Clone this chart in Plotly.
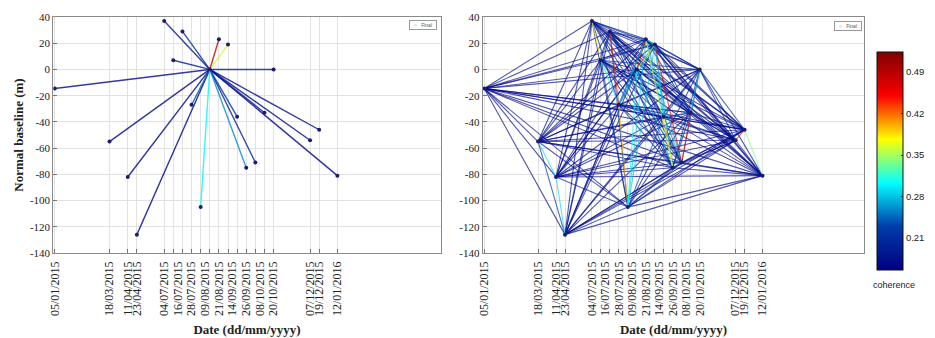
import plotly.graph_objects as go
from plotly.colors import get_colorscale, sample_colorscale

# ---------------- data ----------------
acq_dates = ["2015-01-05", "2015-03-18", "2015-04-11", "2015-04-23", "2015-05-29",
             "2015-06-10", "2015-06-22", "2015-07-04", "2015-07-16", "2015-07-28",
             "2015-08-09", "2015-08-21", "2015-09-02", "2015-09-14", "2015-09-26",
             "2015-10-08", "2015-10-20", "2015-12-07", "2015-12-19", "2016-01-12"]
baseline_m = [-14.5, -55, -82, -126, 37, 7, 29, -27, -105, 0,
              23, 19, -36, -75, -71, -33, 0, -54, -46, -81]
master_index = 9

# coherence, upper triangle: row i holds pairs (i, j) for j > i
coherence_rows = [
    [0.17, 0.16, 0.16, 0.17, 0.17, 0.16, 0.17, 0.16, 0.17, 0.16, 0.17, 0.16, 0.16, 0.17, 0.16, 0.17, 0.16, 0.16, 0.17],
    [0.29, 0.21, 0.17, 0.18, 0.16, 0.17, 0.18, 0.165, 0.16, 0.17, 0.17, 0.16, 0.17, 0.16, 0.17, 0.16, 0.16, 0.16],
    [0.29, 0.17, 0.18, 0.17, 0.18, 0.19, 0.16, 0.17, 0.16, 0.17, 0.17, 0.16, 0.16, 0.17, 0.16, 0.16, 0.16],
    [0.17, 0.18, 0.17, 0.18, 0.20, 0.165, 0.16, 0.17, 0.17, 0.16, 0.17, 0.16, 0.17, 0.16, 0.16, 0.17],
    [0.38, 0.22, 0.20, 0.19, 0.18, 0.19, 0.20, 0.18, 0.17, 0.18, 0.18, 0.19, 0.17, 0.17, 0.16],
    [0.24, 0.30, 0.21, 0.19, 0.20, 0.20, 0.21, 0.19, 0.18, 0.19, 0.20, 0.17, 0.17, 0.16],
    [0.44, 0.22, 0.21, 0.21, 0.20, 0.19, 0.19, 0.20, 0.18, 0.19, 0.17, 0.17, 0.16],
    [0.40, 0.24, 0.28, 0.27, 0.22, 0.20, 0.20, 0.19, 0.18, 0.17, 0.17, 0.16],
    [0.30, 0.29, 0.28, 0.23, 0.21, 0.20, 0.19, 0.18, 0.17, 0.17, 0.16],
    [0.48, 0.36, 0.22, 0.26, 0.19, 0.18, 0.19, 0.17, 0.17, 0.16],
    [0.30, 0.28, 0.36, 0.27, 0.21, 0.20, 0.17, 0.17, 0.16],
    [0.28, 0.27, 0.47, 0.22, 0.20, 0.17, 0.17, 0.16],
    [0.38, 0.26, 0.24, 0.21, 0.18, 0.17, 0.17],
    [0.25, 0.22, 0.20, 0.18, 0.17, 0.17],
    [0.45, 0.24, 0.18, 0.18, 0.17],
    [0.27, 0.19, 0.19, 0.18],
    [0.21, 0.20, 0.18],
    [0.48, 0.20],
    [0.34],
]

x_tick_labels = ["05/01/2015", "18/03/2015", "11/04/2015", "23/04/2015", "04/07/2015",
                 "16/07/2015", "28/07/2015", "09/08/2015", "21/08/2015", "14/09/2015",
                 "26/09/2015", "08/10/2015", "20/10/2015", "07/12/2015", "19/12/2015",
                 "12/01/2016"]
x_tick_label_pos = ["2015-01-05", "2015-03-18", "2015-04-11", "2015-04-23", "2015-05-29",
                    "2015-06-16", "2015-07-04", "2015-07-22", "2015-08-09", "2015-08-27",
                    "2015-09-14", "2015-10-02", "2015-10-20", "2015-12-07", "2015-12-19",
                    "2016-01-12"]
y_ticks = [-140, -120, -100, -80, -60, -40, -20, 0, 20, 40]
cbar_ticks = [0.21, 0.28, 0.35, 0.42, 0.49]
coh_min, coh_max = 0.156, 0.524

# ---------------- geometry (page pixels; page body has an 8px margin) ----------------
OFF = 8
W, H = 935 - OFF, 338 - OFF


def px(x):
    return (x - OFF) / W


def py(y):
    return 1 - (y - OFF) / H


# ---------------- build ----------------
jet = get_colorscale("Jet")


def coh_color(c):
    t = min(max((c - coh_min) / (coh_max - coh_min), 0), 1)
    return sample_colorscale(jet, [t])[0]


pairs = []
for i, row in enumerate(coherence_rows):
    for k, c in enumerate(row):
        pairs.append((i, i + 1 + k, c))
pairs.sort(key=lambda p: p[2])

fig = go.Figure()

# left: star graph from master
star = [p for p in pairs if master_index in (p[0], p[1])]
for i, j, c in star:
    fig.add_trace(go.Scatter(
        x=[acq_dates[i], acq_dates[j]], y=[baseline_m[i], baseline_m[j]],
        mode="lines", line=dict(color=coh_color(c), width=1.4), opacity=0.8,
        showlegend=False, hoverinfo="skip", xaxis="x", yaxis="y"))
fig.add_trace(go.Scatter(
    x=acq_dates, y=baseline_m, mode="markers", name="Final", showlegend=False,
    marker=dict(color="#1c1c6a", size=4), xaxis="x3", yaxis="y"))

# right: full network
for i, j, c in pairs:
    fig.add_trace(go.Scatter(
        x=[acq_dates[i], acq_dates[j]], y=[baseline_m[i], baseline_m[j]],
        mode="lines", line=dict(color=coh_color(c), width=1.1), opacity=0.68,
        showlegend=False, hoverinfo="skip", xaxis="x2", yaxis="y2"))
fig.add_trace(go.Scatter(
    x=acq_dates, y=baseline_m, mode="markers", name="Final", showlegend=False,
    marker=dict(color="#1c1c6a", size=4), xaxis="x4", yaxis="y2"))

# colorbar carrier
fig.add_trace(go.Scatter(
    x=[None], y=[None], mode="markers", showlegend=False, xaxis="x2", yaxis="y2",
    marker=dict(color=[coh_min, coh_max], cmin=coh_min, cmax=coh_max, colorscale="Jet",
                showscale=True,
                colorbar=dict(x=px(877), xanchor="left", xref="paper", xpad=0,
                              y=py(161), yanchor="middle", yref="paper", ypad=0,
                              thickness=26, thicknessmode="pixels",
                              len=218, lenmode="pixels",
                              outlinecolor="#111", outlinewidth=1,
                              tickvals=cbar_ticks, ticktext=[f"{v:.2f}" for v in cbar_ticks],
                              ticks="inside", ticklen=2, tickcolor="#333",
                              tickfont=dict(family="Liberation Sans", size=9.5, color="#222")))))

serif = "Liberation Serif"
x_range = ["2015-01-03", "2016-05-27"]
grid = "#e2e2e2"
frame = "#8a8a8a"


def base_x(domain):
    return dict(domain=domain, type="date", range=x_range, tickvals=acq_dates,
                showticklabels=False, ticks="inside", ticklen=4, tickcolor="#777",
                showgrid=True, gridcolor=grid, gridwidth=1, showline=True,
                linecolor=frame, linewidth=1, mirror=True, zeroline=False,
                automargin=False)


def label_x(over, anchor):
    return dict(overlaying=over, anchor=anchor, type="date", range=x_range,
                tickvals=x_tick_label_pos, ticktext=x_tick_labels, tickangle=-90,
                ticks="", showgrid=False, zeroline=False, showline=False,
                automargin=False, ticklabelstandoff=5,
                tickfont=dict(family=serif, size=12, color="#222"),
                title=dict(text="<b>Date (dd/mm/yyyy)</b>", standoff=9,
                           font=dict(family=serif, size=13, color="#222")))


def base_y(anchor, title):
    d = dict(domain=[py(253), py(17)], anchor=anchor, range=[-140, 40],
             tickvals=y_ticks, ticktext=[str(v) for v in y_ticks],
             ticks="inside", ticklen=4, tickcolor="#777",
             showgrid=True, gridcolor=grid, showline=True, linecolor=frame,
             linewidth=1, mirror=True, zeroline=False, automargin=False,
             tickfont=dict(family=serif, size=11, color="#222"))
    if title:
        d["title"] = dict(text=title, standoff=3, font=dict(family=serif, size=13, color="#222"))
    return d


legend_font = dict(size=5, family="Liberation Sans", color="#555")
fig.update_layout(
    width=W, height=H, autosize=False,
    margin=dict(l=0, r=0, t=0, b=0, autoexpand=False),
    paper_bgcolor="white", plot_bgcolor="white",
    xaxis=base_x([px(53.3), px(440.7)]),
    xaxis2=base_x([px(482.7), px(864.3)]),
    xaxis3=label_x("x", "y"),
    xaxis4=label_x("x2", "y2"),
    yaxis=base_y("x", "<b>Normal baseline (m)</b>"),
    yaxis2=base_y("x2", None),
    annotations=[
        dict(text="○   Final", x=px(437), y=py(19.5), xref="paper", yref="paper",
             xanchor="right", yanchor="top", showarrow=False, font=legend_font,
             bordercolor="#999", borderwidth=1, borderpad=1, bgcolor="white", width=24),
        dict(text="○   Final", x=px(862), y=py(21.5), xref="paper", yref="paper",
             xanchor="right", yanchor="top", showarrow=False, font=legend_font,
             bordercolor="#999", borderwidth=1, borderpad=1, bgcolor="white", width=24),
        dict(text="coherence", x=px(894), y=py(285), xref="paper", yref="paper",
             xanchor="center", yanchor="middle", showarrow=False,
             font=dict(family="Liberation Sans", size=9, color="#222")),
    ],
)

fig.write_html("out.html")
